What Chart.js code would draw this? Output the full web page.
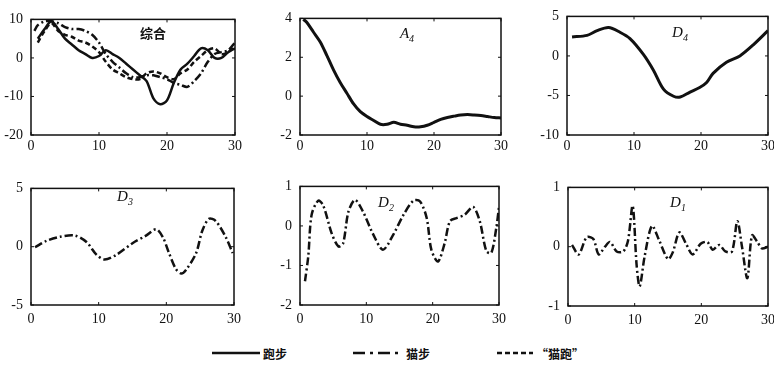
<!DOCTYPE html>
<html>
<head>
<meta charset="utf-8">
<script src="https://cdn.jsdelivr.net/npm/chart.js@4/dist/chart.umd.min.js"></script>
<style>
body{margin:0;background:#fff;overflow:hidden;width:774px;height:365px;position:relative;}
canvas{position:absolute;}
.ttl{position:absolute;transform:translate(-50%,-50%);font-family:'Liberation Serif',serif;font-size:15px;font-style:italic;color:#111;white-space:nowrap;}
.ttl sub{font-size:10px;}
.cn{font-family:'Noto Sans CJK SC',sans-serif;font-style:normal;font-weight:bold;font-size:13px;}
.leg{position:absolute;top:343px;height:20px;display:flex;align-items:center;font-family:'Noto Sans CJK SC',sans-serif;font-weight:bold;font-size:12px;color:#111;}
.leg svg{margin-right:3px;}
</style>
</head>
<body>
<canvas id="c1"></canvas>
<canvas id="c2"></canvas>
<canvas id="c3"></canvas>
<canvas id="c4"></canvas>
<canvas id="c5"></canvas>
<canvas id="c6"></canvas>

<div class="ttl cn" style="left:153px;top:32px;">综合</div>
<div class="ttl" style="left:407px;top:34px;">A<sub>4</sub></div>
<div class="ttl" style="left:680px;top:33px;">D<sub>4</sub></div>
<div class="ttl" style="left:125px;top:197px;">D<sub>3</sub></div>
<div class="ttl" style="left:386px;top:203px;">D<sub>2</sub></div>
<div class="ttl" style="left:678px;top:203px;">D<sub>1</sub></div>

<div class="leg" style="left:212px;"><svg width="48" height="6"><line x1="0" y1="3" x2="48" y2="3" stroke="#111" stroke-width="2.5"/></svg>跑步</div>
<div class="leg" style="left:353px;"><svg width="50" height="6"><line x1="0" y1="3" x2="50" y2="3" stroke="#111" stroke-width="2.5" stroke-dasharray="12,5,3,5"/></svg>猫步</div>
<div class="leg" style="left:497px;"><svg width="36" height="6"><line x1="0" y1="3" x2="36" y2="3" stroke="#111" stroke-width="2.5" stroke-dasharray="5,3"/></svg>“猫跑”</div>

<script>
// 综合: three gaits
var runX = [1,2,3,4,5,6,7,8,9,10,11,12,13,14,15,16,17,18,19,20,21,22,23,24,25,26,27,28,29,30];
var runY = [5,7.5,9.5,7.5,5,3.5,2,1,0,0.5,2,1,0,-1.5,-3,-4.5,-6,-10.5,-12,-11,-6.5,-3,-1.5,0.5,2.5,2,0,0,1.5,2.5];
var catwalkX = [0.5,1,2,3,4,5,6,7,8,9,10,11,12,13,14,15,16,17,18,19,20,21,22,23,24,25,26,27,28,29,30];
var catwalkY = [7,8.5,9.5,9.5,9,8,7.5,7.5,7,6,4,1,-1,-2.5,-4,-5,-5,-4.5,-4.5,-5,-5.5,-6.5,-7,-7.5,-6,-4,-1,1,1.5,2,4];
var catrunX = [1,2,3,4,5,6,7,8,9,10,11,12,13,14,15,16,17,18,19,20,21,22,23,24,25,26,27,28,29,30];
var catrunY = [4,7,9,7,6,5.5,4.5,4,3,1.5,-1,-3,-4,-5,-5.5,-5.5,-4,-3.5,-4,-5,-5.5,-4,-3,-1,0.5,2,2.5,1,1.5,3];

// A4
var a4X = [0.5,1,2,3,4,5,6,7,8,9,10,11,12,13,14,15,16,17,18,19,20,21,22,23,24,25,26,27,28,29,30];
var a4Y = [3.95,3.8,3.3,2.8,2.1,1.35,0.7,0.15,-0.4,-0.8,-1.05,-1.25,-1.45,-1.45,-1.35,-1.45,-1.5,-1.58,-1.58,-1.5,-1.35,-1.2,-1.1,-1.03,-0.97,-0.95,-0.97,-1,-1.05,-1.1,-1.12];

// D4
var d4X = [0.75,3,4.5,6.2,7.9,9.4,11.4,12.9,14.4,15.9,16.9,18.3,19.8,20.8,21.8,23.8,25.8,27.8,30];
var d4Y = [2.4,2.6,3.2,3.6,3.0,2.2,0.2,-1.8,-4.2,-5.1,-5.2,-4.6,-4,-3.4,-2.2,-0.8,0,1.4,3.2];

// D3
var d3X = [0.6,2.3,4.3,6.5,8.2,9.7,10.9,12.6,15,17,18.5,19.5,20.4,21.4,22.2,22.9,24.4,25.3,26.3,27.3,28.8,29.8];
var d3Y = [-0.05,0.5,0.85,0.95,0.4,-0.7,-1.1,-0.7,0.3,0.95,1.5,0.8,-0.55,-1.9,-2.3,-2.0,-0.55,1.35,2.4,2.2,0.8,-0.55];

// D2
var d2X = [0.75,1.25,1.75,2.75,3.5,4.8,5.8,6.5,7.3,8.3,9.5,11,12.5,14,15.6,17.1,18.1,19.1,19.8,20.8,21.8,22.6,23.6,24.8,26.1,27.1,28.1,28.85,29.6,30];
var d2Y = [-1.4,-0.76,0.28,0.64,0.52,-0.2,-0.52,-0.44,0.36,0.66,0.36,-0.2,-0.6,-0.24,0.28,0.64,0.62,0.2,-0.6,-0.9,-0.44,0.12,0.2,0.28,0.48,0.12,-0.64,-0.68,-0.04,0.48];

// D1
var d1X = [0.6,1.6,2.8,3.8,4.6,5.55,6.3,7.3,8.3,9,9.7,10.3,10.75,11.5,12.6,13.7,15,15.7,16.7,17.7,18.7,19.9,20.9,21.7,22.7,23.6,24.6,25.4,26.1,26.9,27.6,28.4,29.1,30];
var d1Y = [0.03,-0.13,0.16,0.13,-0.13,0,0.08,-0.08,-0.08,0.1,0.69,-0.32,-0.67,-0.16,0.35,0.1,-0.21,-0.1,0.24,0.05,-0.13,0.05,0.08,-0.05,0.03,-0.08,-0.08,0.43,0,-0.53,0.19,0.08,-0.03,0];

var xTicks = [0, 30, 10];
var dashDot = [8,3,2,3];
var dashed = [5,3];

function pts(xs, ys) {
  return xs.map(function(x, i) { return {x: x, y: ys[i]}; });
}

function line(xs, ys, width, dash) {
  return {
    data: pts(xs, ys),
    borderColor: '#111',
    borderWidth: width,
    borderDash: dash || [],
    pointRadius: 0,
    tension: 0.3,
    fill: false
  };
}

// box around plot area with inward ticks
var framePlugin = {
  id: 'frame',
  afterDraw: function(chart) {
    var ctx = chart.ctx, a = chart.chartArea;
    var sx = chart.scales.x, sy = chart.scales.y;
    ctx.save();
    ctx.strokeStyle = '#111';
    ctx.lineWidth = 1.5;
    ctx.strokeRect(a.left, a.top, a.right - a.left, a.bottom - a.top);
    ctx.lineWidth = 1;
    ctx.beginPath();
    sx.ticks.forEach(function(t) {
      var p = sx.getPixelForValue(t.value);
      ctx.moveTo(p, a.bottom); ctx.lineTo(p, a.bottom - 3);
      ctx.moveTo(p, a.top); ctx.lineTo(p, a.top + 3);
    });
    sy.ticks.forEach(function(t) {
      var p = sy.getPixelForValue(t.value);
      ctx.moveTo(a.left, p); ctx.lineTo(a.left + 3, p);
      ctx.moveTo(a.right, p); ctx.lineTo(a.right - 3, p);
    });
    ctx.stroke();
    ctx.restore();
  }
};

var tickFont = {family: 'Liberation Serif', size: 14};

function makePanel(id, box, yRange, datasets, xPad) {
  var cv = document.getElementById(id);
  cv.width = box.w + 36 + 12;
  cv.height = box.h + 10 + 26;
  cv.style.left = (box.l - 36) + 'px';
  cv.style.top = (box.t - 10) + 'px';
  new Chart(cv, {
    type: 'line',
    data: {datasets: datasets},
    options: {
      responsive: false,
      animation: false,
      layout: {padding: {top: 10, right: 12, left: 0, bottom: 0}},
      plugins: {legend: {display: false}, tooltip: {enabled: false}},
      scales: {
        x: {
          type: 'linear', min: xTicks[0], max: xTicks[1],
          ticks: {stepSize: xTicks[2], padding: xPad, color: '#111', font: tickFont, maxRotation: 0},
          grid: {display: false, drawTicks: false},
          border: {display: false},
          afterFit: function(s) { s.height = 26; }
        },
        y: {
          type: 'linear', min: yRange[0], max: yRange[1],
          ticks: {stepSize: yRange[2], padding: 8, color: '#111', font: tickFont},
          grid: {display: false, drawTicks: false},
          border: {display: false},
          afterFit: function(s) { s.width = 36; }
        }
      }
    },
    plugins: [framePlugin]
  });
}

makePanel('c1', {l: 31, t: 13, w: 204, h: 122}, [-20, 10, 10], [
  line(runX, runY, 2.5),
  line(catwalkX, catwalkY, 2.5, dashDot),
  line(catrunX, catrunY, 2.5, dashed)
], 3);
makePanel('c2', {l: 300, t: 12, w: 201, h: 123}, [-2, 4, 2], [line(a4X, a4Y, 3)], 3);
makePanel('c3', {l: 567, t: 10, w: 201, h: 125}, [-10, 5, 5], [line(d4X, d4Y, 3)], 3);
makePanel('c4', {l: 31, t: 182, w: 204, h: 123}, [-5, 5, 5], [line(d3X, d3Y, 2.5, dashDot)], 6);
makePanel('c5', {l: 300, t: 180, w: 200, h: 125}, [-2, 1, 1], [line(d2X, d2Y, 2.5, dashDot)], 6);
makePanel('c6', {l: 568, t: 181, w: 201, h: 125}, [-1, 1, 1], [line(d1X, d1Y, 2.5, dashDot)], 6);
</script>
</body>
</html>
